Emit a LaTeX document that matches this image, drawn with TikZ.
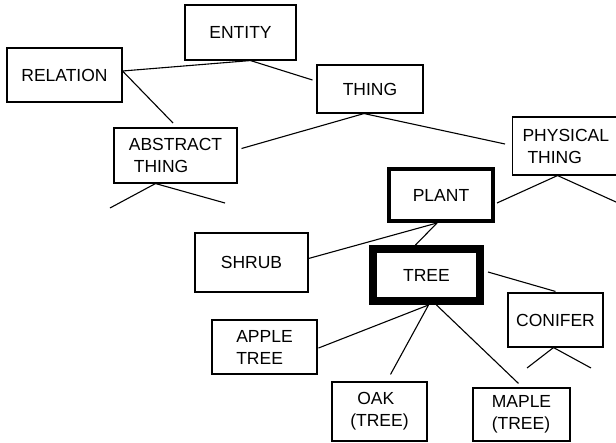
\documentclass[tikz,border=0pt]{standalone}
\usepackage{fontspec}
\setmainfont{Liberation Sans}

\begin{document}
\begin{tikzpicture}[x=1pt,y=-1pt,
  box/.style={draw,line width=1.1pt,fill=white,align=left,inner sep=0pt,
    font=\fontsize{17.5}{22}\selectfont},
  focus/.style={box,line width=4pt},
  mainbox/.style={box,line width=8pt},
  link/.style={line width=1.1pt}]
\useasboundingbox (0,0) rectangle (616,442);
\clip (0,0) rectangle (616,442);

\node[box,minimum width=111pt,minimum height=55pt] (entity) at (240.5,32.5) {ENTITY};
\node[box,minimum width=115pt,minimum height=54pt] (relation) at (64.5,75) {RELATION};
\node[box,minimum width=106pt,minimum height=48pt] (thing) at (370,89) {THING};
\node[box,minimum width=123pt,minimum height=55pt] (abstract) at (175.5,155.5) {ABSTRACT\\\hspace{5pt}THING};
\node[box,anchor=west,text width=100pt,inner xsep=10pt,minimum height=58pt] (physical) at (512,146) {PHYSICAL\\\hspace{5pt}THING};
\node[focus,minimum width=104pt,minimum height=52pt] (plant) at (441,195) {PLANT};
\node[box,minimum width=113pt,minimum height=59pt] (shrub) at (251.5,262.5) {SHRUB};
\node[mainbox,minimum width=107pt,minimum height=52pt] (tree) at (426.5,275) {TREE};
\node[box,minimum width=95pt,minimum height=54pt] (conifer) at (555.5,320) {CONIFER};
\node[box,minimum width=105pt,minimum height=54pt] (apple) at (264.5,347) {APPLE\\TREE};
\node[box,minimum width=95pt,minimum height=59pt] (oak) at (379.5,411.5) {\hspace{7pt}OAK\\(TREE)};
\node[box,minimum width=97pt,minimum height=53pt] (maple) at (521.5,414.5) {MAPLE\\(TREE)};

\coordinate (relfree) at (173,123);
\coordinate (absleft) at (110,208);
\coordinate (absright) at (225,203);
\coordinate (physright) at (616,202);
\coordinate (conleft) at (527,368);
\coordinate (conright) at (591,368);

\draw[link] ([xshift=10pt]entity.south) -- ([yshift=4pt]relation.east);
\draw[link] ([xshift=10pt]entity.south) -- ([yshift=9pt,xshift=-4pt]thing.west);
\draw[link] ([yshift=4pt]relation.east) -- (relfree);
\draw[link] ([xshift=-6pt]thing.south) -- ([shift={(4pt,7pt)}]abstract.east);
\draw[link] ([xshift=-6pt]thing.south) -- ([shift={(-7pt,2pt)}]physical.west);
\draw[link] ([xshift=-20pt]abstract.south) -- (absleft);
\draw[link] ([xshift=-20pt]abstract.south) -- (absright);
\draw[link] ([xshift=-15pt]physical.south) -- ([yshift=-8pt,xshift=2pt]plant.east);
\draw[link] ([xshift=-15pt]physical.south) -- (physright);
\draw[link] ([xshift=-4pt]plant.south) -- ([yshift=4pt]shrub.east);
\draw[link] ([xshift=-4pt]plant.south) -- ([xshift=-11pt]tree.north);
\draw[link] ([yshift=3pt,xshift=4pt]tree.east) -- ([yshift=1pt]conifer.north);
\draw[link] ([xshift=2pt]tree.south) -- ([shift={(1pt,-1pt)}]apple.east);
\draw[link] ([xshift=2pt]tree.south) -- ([shift={(11pt,7pt)}]oak.north);
\draw[link] ([xshift=10pt]tree.south) -- ([shift={(-3pt,4pt)}]maple.north);
\draw[link] ([xshift=-2pt]conifer.south) -- (conleft);
\draw[link] ([xshift=-2pt]conifer.south) -- (conright);
\end{tikzpicture}
\end{document}
